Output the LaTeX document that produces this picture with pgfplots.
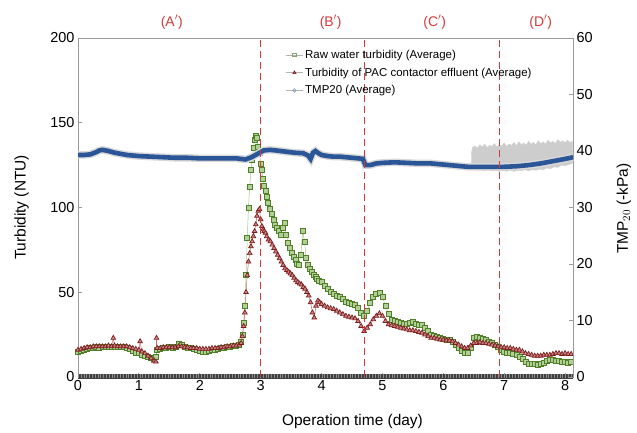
\documentclass[border=0pt]{standalone}
\usepackage{fontspec}
\setmainfont{Liberation Sans}
\usepackage{pgfplots}
\usepackage{pgfplotstable}
\pgfplotsset{compat=1.18}

\definecolor{rawgreen}{HTML}{4F7F26}
\definecolor{rawfill}{HTML}{B3CF98}
\definecolor{rawline}{HTML}{A5C488}
\definecolor{effred}{HTML}{7E1C1C}
\definecolor{efffill}{HTML}{C98585}
\definecolor{effline}{HTML}{B87070}
\definecolor{tmpblue}{HTML}{2A5597}
\definecolor{tmpgray}{HTML}{CDCDCD}
\definecolor{tmphalo}{HTML}{D8D8D8}
\definecolor{phasered}{HTML}{D43A3A}
\definecolor{framegray}{HTML}{9A9A9A}

% Raw water turbidity (NTU), averaged
\pgfplotstableread{
x y
0.00 15
0.05 15.5
0.10 16
0.15 16.5
0.20 17
0.25 17
0.30 17.5
0.35 17
0.40 17.5
0.45 17.5
0.50 18
0.55 17.5
0.60 17.5
0.65 18
0.70 17.5
0.75 17.5
0.80 17
0.85 16.5
0.90 15.5
0.95 14.5
1.00 14
1.05 13
1.10 12.5
1.15 12
1.20 11.5
1.25 11
1.28 12
1.30 16
1.35 16.5
1.40 17
1.45 17
1.50 17.5
1.55 17
1.60 18
1.65 19.5
1.70 19
1.75 17.5
1.80 17
1.85 17
1.90 16.5
1.95 16
2.00 15.5
2.05 15
2.10 15
2.15 15.5
2.20 16
2.25 16
2.30 16.5
2.35 17
2.40 17
2.45 17.5
2.50 18
2.55 18.5
2.60 18.5
2.65 19
2.68 21
2.70 25
2.72 32
2.74 42
2.76 60
2.78 82
2.80 100
2.82 112
2.84 122
2.86 128
2.88 135
2.90 140
2.92 142
2.94 141
2.96 136
2.98 132
3.00 126
3.02 122
3.04 117
3.06 113
3.08 110
3.10 106
3.12 103
3.15 99
3.18 96
3.21 93
3.24 90
3.27 88
3.30 86
3.33 84
3.36 88
3.39 91
3.42 84
3.45 79
3.48 76
3.51 73
3.54 71
3.57 69
3.60 67
3.63 66
3.66 72
3.69 86
3.72 80
3.75 70
3.78 66
3.81 64
3.84 62
3.87 60
3.90 59
3.93 58
3.96 57
4.00 56
4.05 54
4.10 52
4.15 50
4.20 49
4.25 48
4.30 47
4.35 46
4.40 44.5
4.45 44
4.50 43
4.55 42.5
4.60 41
4.65 38
4.70 36
4.75 39
4.80 44
4.85 47
4.90 49
4.95 49.5
5.00 47
5.05 42
5.10 37
5.15 34
5.20 33
5.25 32.5
5.30 32
5.35 31.5
5.40 31.5
5.45 32
5.50 32.5
5.55 31.5
5.60 31
5.65 30.5
5.70 29
5.75 27
5.80 25
5.85 24
5.90 23.5
5.95 23
6.00 22.5
6.05 22
6.10 22
6.15 21
6.20 19
6.25 17
6.30 15.5
6.35 14
6.40 14
6.45 17
6.50 23
6.55 23.5
6.60 23
6.65 22.5
6.70 22
6.75 21
6.80 20
6.85 19
6.90 18
6.95 16
7.00 15
7.05 14.5
7.10 14
7.15 13.5
7.20 13
7.25 12
7.30 10.5
7.35 9
7.40 8
7.45 7.5
7.50 7.5
7.55 7
7.60 7.5
7.65 8.5
7.70 9.5
7.75 10
7.80 10
7.85 9.5
7.90 9.5
7.95 9
8.00 9
8.05 8.5
8.10 9
}\rawturb

% Turbidity of PAC contactor effluent (NTU), averaged
\pgfplotstableread{
x y
0.00 16
0.05 16.5
0.10 17
0.15 17.5
0.20 17.5
0.25 18
0.30 18
0.35 18
0.40 18
0.45 18
0.50 18.5
0.55 18
0.58 23
0.60 18.5
0.65 18
0.70 18
0.75 18
0.80 18
0.85 17.5
0.90 17
0.95 16.5
1.00 16
1.02 21
1.05 15
1.10 14
1.15 12.5
1.20 11
1.25 9.5
1.28 9
1.29 23
1.30 17
1.35 17
1.40 17.5
1.45 17.5
1.50 17.5
1.55 17.5
1.60 17.5
1.65 18
1.70 18
1.75 17.5
1.80 17.5
1.85 17
1.90 17
1.95 17
2.00 16.5
2.05 16.5
2.10 16.5
2.15 16.5
2.20 17
2.25 17
2.30 17
2.35 17.5
2.40 17.5
2.45 18
2.50 18
2.55 18.5
2.60 18.5
2.65 19
2.68 20
2.70 24
2.72 30
2.74 38
2.76 50
2.78 60
2.80 68
2.82 73
2.84 77
2.86 80
2.88 83
2.90 86
2.92 90
2.94 95
2.96 98
2.98 99
3.00 93
3.02 89
3.04 87
3.06 86
3.08 85
3.10 83
3.13 81
3.16 80
3.19 78
3.22 76
3.25 74
3.28 72
3.31 70
3.34 68
3.37 66
3.40 64
3.43 63
3.46 62
3.49 61
3.52 60
3.55 58.5
3.58 57
3.61 56
3.64 55
3.67 54.5
3.70 53
3.73 52
3.76 50
3.79 48
3.82 44
3.85 38
3.88 35
3.91 42
3.94 45
3.97 44
4.00 43
4.05 42
4.10 41
4.15 40.5
4.20 40
4.25 39
4.30 38
4.35 37
4.40 36
4.45 35.5
4.50 35
4.55 34.5
4.60 33
4.65 30
4.70 27
4.75 29
4.80 31
4.85 34
4.90 36
4.95 37.5
5.00 36
5.05 33
5.10 31
5.15 30.5
5.20 30
5.25 29.5
5.30 29
5.35 28.5
5.40 28
5.45 27.5
5.50 27.5
5.55 27
5.60 26.5
5.65 26
5.70 25
5.75 24
5.80 23
5.85 23
5.90 22.5
5.95 22
6.00 22
6.05 21.5
6.10 21.5
6.15 21
6.20 20
6.25 19
6.30 18
6.35 17
6.40 17
6.45 18.5
6.50 20
6.55 20
6.60 20.5
6.65 20
6.70 20
6.75 19.5
6.80 19
6.85 18.5
6.90 18
6.95 17.5
7.00 17.5
7.05 17
7.10 17
7.15 16.5
7.20 16
7.25 16
7.30 15
7.35 14
7.40 13.5
7.45 13
7.50 12.5
7.55 12.5
7.60 12.5
7.65 13
7.70 13
7.75 13
7.80 13.5
7.85 14
7.90 14
7.95 13.5
8.00 14
8.05 13.5
8.10 13.5
}\effturb

% TMP20 (-kPa), averaged
\pgfplotstableread{
x y
0.00 39.3
0.10 39.3
0.20 39.4
0.30 39.8
0.35 40.1
0.40 40.2
0.50 40.0
0.60 39.7
0.70 39.5
0.80 39.3
0.90 39.2
1.00 39.1
1.20 39.0
1.40 38.9
1.60 38.8
1.80 38.8
2.00 38.7
2.20 38.7
2.40 38.7
2.60 38.7
2.75 38.5
2.85 38.9
2.95 39.5
3.05 40.1
3.15 40.2
3.25 40.1
3.40 39.9
3.55 39.7
3.70 39.6
3.78 39.2
3.82 38.6
3.86 39.7
3.90 40.0
3.95 39.6
4.00 39.3
4.10 39.1
4.20 39.0
4.30 39.0
4.40 38.9
4.50 38.8
4.60 38.7
4.68 38.6
4.72 37.5
4.80 37.5
4.90 37.8
5.00 37.9
5.20 38.0
5.40 37.9
5.60 37.8
5.80 37.8
6.00 37.6
6.20 37.4
6.40 37.2
6.60 37.2
6.80 37.2
7.00 37.2
7.20 37.3
7.40 37.5
7.60 37.8
7.80 38.2
8.00 38.6
8.13 38.9
}\tmpavg

% TMP20 (-kPa): envelope of the individual readings while they scatter widely
% (upper edge forward in time, lower edge back)
\pgfplotstableread{
x y
6.46 39.5
6.48 40.6
6.52 40.9
6.56 40.5
6.60 41.1
6.64 40.7
6.68 41.2
6.72 40.6
6.76 41.0
6.80 40.8
6.84 41.3
6.88 40.7
6.92 41.1
6.96 40.9
7.00 41.4
7.04 40.8
7.08 41.2
7.12 41.0
7.16 41.5
7.20 40.9
7.24 41.6
7.28 41.1
7.32 41.4
7.36 41.0
7.40 41.7
7.44 41.2
7.48 41.5
7.52 41.1
7.56 41.8
7.60 41.3
7.64 41.6
7.68 41.2
7.72 41.9
7.76 41.4
7.80 41.7
7.84 41.3
7.88 42.0
7.92 41.5
7.96 41.8
8.00 41.4
8.04 41.9
8.08 41.5
8.12 41.7
8.12 37.9
8.06 37.6
8.00 37.4
7.94 37.5
7.88 37.1
7.82 37.2
7.76 36.9
7.70 37.0
7.64 36.7
7.58 36.8
7.52 36.6
7.46 36.7
7.40 36.5
7.34 36.7
7.28 36.5
7.22 36.6
7.16 36.4
7.10 36.6
7.04 36.4
6.98 36.6
6.92 36.4
6.86 36.6
6.80 36.5
6.74 36.7
6.68 36.5
6.62 36.7
6.56 36.6
6.50 36.8
6.46 37.0
}\tmpscatter

\pgfplotsset{
  base/.style={
    scale only axis, width=495bp, height=339bp,
    at={(0,0)}, anchor=south west,
    xmin=0, xmax=8.13,
    tick align=inside, major tick length=4bp,
    axis line style={framegray, line width=0.8bp},
    tick style={framegray, line width=0.8bp},
    tick label style={font=\fontsize{14.5}{14.5}\selectfont},
    label style={font=\fontsize{15.5}{15.5}\selectfont},
    /pgf/number format/assume math mode=true,
    clip=false,
  },
}

\begin{document}
\begin{tikzpicture}
% left axis: turbidity
\begin{axis}[base,
  ymin=0, ymax=200, ytick={0,50,...,200},
  xtick={0,...,8}, xtick pos=bottom, ytick pos=left,
  xlabel={Operation time (day)},
  ylabel={Turbidity (NTU)},
  xlabel style={at={(axis description cs:0.5545,-0.13)}, anchor=center},
  ylabel style={at={(axis description cs:-0.1137,0.5)}, anchor=center},
]
\addplot[rawline, line width=0.5bp, mark=square*, mark size=2.5bp,
  mark options={draw=rawgreen, fill=rawfill, line width=0.7bp}] table {\rawturb};
\addplot[effline, line width=0.5bp, mark=triangle*, mark size=2.7bp,
  mark options={draw=effred, fill=efffill, line width=0.7bp}] table {\effturb};
% membrane permeate turbidity, close to zero
\addplot[black!75, line width=5bp] coordinates {(0,0.3) (8.13,0.3)};
\addplot[black!45, line width=4bp, dash pattern=on 0.8bp off 2bp] coordinates {(0,0.3) (8.13,0.3)};
\end{axis}

% right axis: TMP20
\begin{axis}[base,
  ymin=0, ymax=60, ytick={0,10,...,60},
  axis y line*=right, axis x line=none,
  ylabel={TMP$_{20}$ (-kPa)},
  ylabel style={at={(axis description cs:1.103,0.497)}, anchor=center},
  legend style={at={(axis description cs:0.413,0.977)}, anchor=north west,
    draw=none, fill=none, font=\fontsize{11.5}{11.5}\selectfont, row sep=4bp},
  legend cell align=left,
]
\addlegendimage{gray!60, line width=0.6bp, mark=square, mark size=1.8bp, mark options={draw=rawgreen!70, solid}}
\addlegendimage{gray!60, line width=0.6bp, mark=triangle*, mark size=1.8bp, mark options={draw=effred, fill=effred!70}}
\addlegendimage{gray!60, line width=0.6bp, mark=o, mark size=1.8bp, mark options={draw=tmpblue!60}}
\addplot[fill=tmpgray, draw=tmpgray, line width=0.5bp, forget plot] table {\tmpscatter};
\addplot[tmphalo, line width=7.5bp, forget plot] table {\tmpavg};
\addplot[tmpblue, line width=4.6bp, forget plot] table {\tmpavg};
% phase boundaries
\addplot[phasered, line width=1.2bp, dash pattern=on 7bp off 4bp, forget plot] coordinates {(3.0,0) (3.0,60)};
\addplot[phasered, line width=1.2bp, dash pattern=on 7bp off 4bp, forget plot] coordinates {(4.7,0) (4.7,60)};
\addplot[phasered, line width=1.2bp, dash pattern=on 7bp off 4bp, forget plot] coordinates {(6.92,0) (6.92,60)};
\legend{Raw water turbidity (Average), Turbidity of PAC contactor effluent (Average), TMP20 (Average)}
\node[phasered, font=\fontsize{14}{14}\selectfont] at (axis cs:1.54,62.8) {(A$^{\prime}$)};
\node[phasered, font=\fontsize{14}{14}\selectfont] at (axis cs:4.15,62.8) {(B$^{\prime}$)};
\node[phasered, font=\fontsize{14}{14}\selectfont] at (axis cs:5.86,62.8) {(C$^{\prime}$)};
\node[phasered, font=\fontsize{14}{14}\selectfont] at (axis cs:7.60,62.8) {(D$^{\prime}$)};
\end{axis}
\pgfresetboundingbox
\useasboundingbox (-78bp,-56bp) rectangle (559bp,377bp);
\end{tikzpicture}
\end{document}
